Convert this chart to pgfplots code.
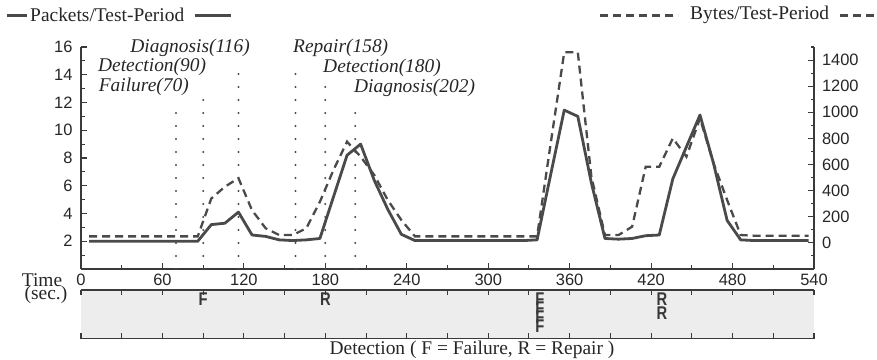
\documentclass[border=0pt]{standalone}
\usepackage{fontspec}
\setmainfont{Liberation Serif}
\setsansfont{Liberation Sans}
\usepackage{graphicx}
\usepackage{pgfplots}
\pgfplotsset{compat=1.18}
\definecolor{ink}{HTML}{4A4A4A}
\definecolor{axisc}{HTML}{3A3A3A}
\definecolor{stripbg}{HTML}{EDEDED}
\definecolor{dotc}{HTML}{4A4A4A}
\newcommand{\serif}{\fontsize{19.5}{22}\selectfont\rmfamily}
\newcommand{\serifit}{\fontsize{19.5}{22}\selectfont\rmfamily\itshape}
\newcommand{\sanstick}{\fontsize{16.5}{18}\selectfont\sffamily}
\newcommand{\letterfont}{\fontsize{18.5}{19}\selectfont\sffamily\bfseries}

\pgfplotstableread{
t pk by
6 2.0 50
16 2.0 50
26 2.0 50
36 2.0 50
46 2.0 50
56 2.0 50
66 2.0 50
76 2.0 50
86 2.0 50
96 3.2 340
106 3.3 430
116 4.1 495
126 2.45 250
136 2.35 112
146 2.1 60
156 2.05 60
166 2.1 112
176 2.2 315
186 5.2 558
196 8.2 775
206 9.0 660
216 6.4 520
226 4.3 328
236 2.5 175
246 2.05 50
256 2.05 50
266 2.05 50
276 2.05 50
286 2.05 50
296 2.05 50
306 2.05 50
316 2.05 50
326 2.05 50
336 2.1 50
346 6.8 760
356 11.45 1460
366 11.0 1460
376 6.2 507
386 2.2 60
396 2.15 60
406 2.2 124
416 2.4 583
426 2.45 583
436 6.5 801
446 8.8 660
456 11.1 954
466 7.6 609
476 3.5 328
486 2.1 60
496 2.05 55
506 2.05 55
516 2.05 55
526 2.05 55
536 2.05 55
}\datatable

\pgfplotstableread{
x y l
90 39.5 F
180 39.5 R
338 39.5 F
338 30 F
338 21 F
338 12 F
428 39.5 R
428 25.5 R
}\eventtable

\begin{document}
\begin{tikzpicture}
\useasboundingbox (0,0) rectangle (877bp,360bp);

% ---------- main axis: packets (left) ----------
\begin{axis}[
  at={(81bp,91bp)}, anchor=south west, scale only axis,
  width=733bp, height=222bp,
  xmin=0, xmax=540, ymin=0, ymax=16,
  axis x line*=bottom, axis y line*=left,
  axis line style={axisc, line width=1.3bp},
  xtick={0,60,...,540}, minor xtick={30,90,...,510},
  ytick={2,4,...,16}, minor ytick={1,3,...,15},
  tick align=inside,
  major tick length=6bp, minor tick length=3.5bp,
  tick style={axisc, line width=1.1bp},
  minor tick style={axisc, line width=1.1bp},
  tick label style={font=\sanstick, text=black!85},
  /pgf/number format/assume math mode=true,
  /pgf/number format/1000 sep={},
  yticklabel style={xshift=-5bp},
  xticklabel style={yshift=-2bp},
  clip=false,
]
\addplot[ink, line width=2.8bp, line join=round] table[x=t,y=pk]{\datatable};
% event lines
\addplot[dotc, line width=2.2bp, line cap=round, dash pattern=on 0bp off 13bp] coordinates {(70,0) (70,11.5)};
\addplot[dotc, line width=2.2bp, line cap=round, dash pattern=on 0bp off 13bp] coordinates {(90,0) (90,13.0)};
\addplot[dotc, line width=2.2bp, line cap=round, dash pattern=on 0bp off 13bp] coordinates {(116,0) (116,14.7)};
\addplot[dotc, line width=2.2bp, line cap=round, dash pattern=on 0bp off 13bp] coordinates {(158,0) (158,14.7)};
\addplot[dotc, line width=2.2bp, line cap=round, dash pattern=on 0bp off 13bp] coordinates {(180,0) (180,13.8)};
\addplot[dotc, line width=2.2bp, line cap=round, dash pattern=on 0bp off 13bp] coordinates {(202,0) (202,12.0)};
\node[font=\serifit, text=black!85, anchor=east, inner sep=0] at (axis cs:124.5,15.93) {Diagnosis(116)};
\node[font=\serifit, text=black!85, anchor=west, inner sep=0] at (axis cs:12.5,14.56) {Detection(90)};
\node[font=\serifit, text=black!85, anchor=west, inner sep=0] at (axis cs:13.0,13.12) {Failure(70)};
\node[font=\serifit, text=black!85, anchor=west, inner sep=0] at (axis cs:156.2,15.93) {Repair(158)};
\node[font=\serifit, text=black!85, anchor=west, inner sep=0] at (axis cs:178.3,14.49) {Detection(180)};
\node[font=\serifit, text=black!85, anchor=west, inner sep=0] at (axis cs:201.1,13.05) {Diagnosis(202)};
\end{axis}

% ---------- second axis: bytes (right) ----------
\begin{axis}[
  at={(81bp,91bp)}, anchor=south west, scale only axis,
  width=733bp, height=222bp,
  xmin=0, xmax=540, ymin=-200, ymax=1500,
  axis x line=none, axis y line*=right,
  axis line style={axisc, line width=1.3bp},
  ytick={0,200,...,1400}, minor ytick={-100,100,...,1500},
  tick align=inside,
  major tick length=6bp, minor tick length=3.5bp,
  tick style={axisc, line width=1.1bp},
  minor tick style={axisc, line width=1.1bp},
  tick label style={font=\sanstick, text=black!85},
  /pgf/number format/assume math mode=true,
  /pgf/number format/1000 sep={},
  yticklabel style={xshift=4.5bp},
]
\addplot[ink, line width=2.3bp, dash pattern=on 8bp off 5bp] table[x=t,y=by]{\datatable};
\end{axis}

% ---------- detection strip ----------
\begin{axis}[
  at={(81bp,21.5bp)}, anchor=south west, scale only axis,
  width=733bp, height=48.5bp,
  xmin=0, xmax=540, ymin=0, ymax=48.5,
  separate axis lines,
  axis x line=box, axis y line=box,
  x axis line style={axisc, line width=1.3bp},
  y axis line style={draw=none},
  axis background/.style={fill=stripbg},
  xtick={0,60,...,540}, minor xtick={30,90,...,510},
  xticklabels={}, ytick=\empty,
  tick align=inside,
  major tick length=5bp, minor tick length=5bp,
  tick style={axisc, line width=1.1bp},
  minor tick style={axisc, line width=1.1bp},
  clip=false,
]
\addplot[draw=none, mark=none, nodes near coords, point meta=explicit symbolic,
  every node near coord/.style={anchor=center, inner sep=0, text=black!78},
  nodes near coords={\letterfont\scalebox{0.8}[1]{\letterfont\pgfplotspointmeta}}]
  table[x=x,y=y,meta=l]{\eventtable};
\end{axis}

% ---------- legend keys and captions ----------
\draw[ink, line width=2.8bp] (7bp,344.5bp) -- (27bp,344.5bp);
\node[font=\serif, text=black!85, anchor=west, inner sep=0] at (30bp,345bp) {Packets/Test-Period};
\draw[ink, line width=2.8bp] (195bp,344.5bp) -- (231bp,344.5bp);
\draw[ink, line width=2.3bp, dash pattern=on 8bp off 5bp] (600bp,344.5bp) -- (678bp,344.5bp);
\node[font=\serif, text=black!85, anchor=west, inner sep=0] at (690bp,345bp) {Bytes/Test-Period};
\draw[ink, line width=2.3bp, dash pattern=on 8bp off 5bp] (840bp,344.5bp) -- (877bp,344.5bp);

\node[font=\serif, text=black!85] at (42bp,80bp) {Time};
\node[font=\serif, text=black!85] at (46bp,65bp) {(sec.)};
\node[font=\serif, text=black!85] at (472bp,10bp) {Detection ( F = Failure, R = Repair )};
\end{tikzpicture}
\end{document}
